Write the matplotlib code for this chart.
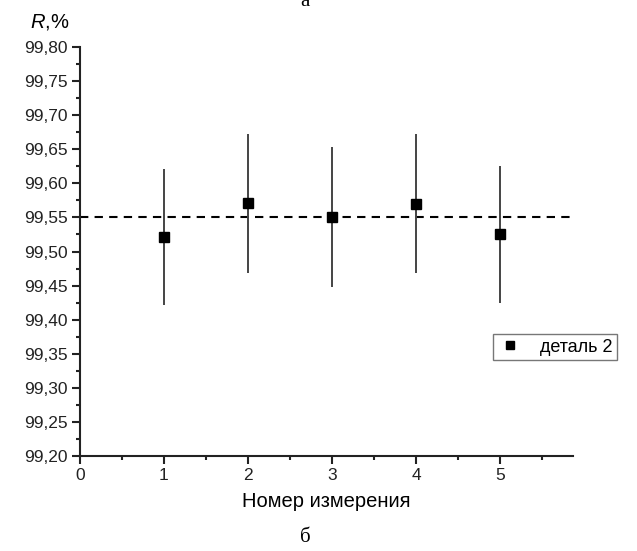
import matplotlib
matplotlib.use("Agg")
import matplotlib.pyplot as plt
from matplotlib.ticker import MultipleLocator, FuncFormatter
from matplotlib.lines import Line2D

x_vals = [1, 2, 3, 4, 5]
r_vals = [99.521, 99.571, 99.551, 99.570, 99.525]
r_err = [0.100, 0.102, 0.103, 0.102, 0.101]
ref_level = 99.55
series_label = "деталь 2"
x_label = "Номер измерения"
y_label_text = "$\\mathit{R}$,%"

plt.rcParams['font.family'] = ['Liberation Sans', 'DejaVu Sans']
plt.rcParams['mathtext.fontset'] = 'custom'
plt.rcParams['mathtext.it'] = 'Liberation Sans:italic'
plt.rcParams['mathtext.rm'] = 'Liberation Sans'

fig = plt.figure(figsize=(6.37, 5.51), dpi=100)
ax = fig.add_axes([80/637, (551-456)/551, (573-80)/637, (456-47)/551])

ax.axhline(ref_level, color='black', lw=1.5, ls=(0, (4, 3)), zorder=1)
ax.errorbar(x_vals, r_vals, yerr=r_err, fmt='s', color='black', ms=7,
            ecolor='#444444', elinewidth=1.4, capsize=0, zorder=3)

ax.set_xlim(0, 5.87)
ax.set_ylim(99.20, 99.80)
ax.xaxis.set_major_locator(MultipleLocator(1))
ax.xaxis.set_minor_locator(MultipleLocator(0.5))
ax.yaxis.set_major_locator(MultipleLocator(0.05))
ax.yaxis.set_minor_locator(MultipleLocator(0.025))
ax.yaxis.set_major_formatter(FuncFormatter(lambda v, p: f"{v:.2f}".replace('.', ',')))
ax.xaxis.set_major_formatter(FuncFormatter(lambda v, p: f"{int(round(v))}"))

for s in ['top', 'right']:
    ax.spines[s].set_visible(False)
for s in ['left', 'bottom']:
    ax.spines[s].set_linewidth(1.5)
    ax.spines[s].set_color('#222222')
ax.tick_params(which='major', direction='out', length=6, width=1.5, labelsize=12.5,
               colors='#222222', pad=3)
ax.tick_params(which='minor', direction='out', length=3, width=1.5, colors='#222222')

ax.set_xlabel(x_label, fontsize=14.5, labelpad=6)
fig.text(50/637, 1 - 22/551, y_label_text, fontsize=14.5, ha='center', va='center')

handle = Line2D([], [], marker='s', color='black', ls='none', ms=6)
leg = ax.legend([handle], [series_label], loc='center', bbox_to_anchor=(555/637, 1 - 347/551),
                bbox_transform=fig.transFigure,
                fontsize=13, frameon=True, fancybox=False, edgecolor='#555555',
                handlelength=1.4, handletextpad=1.0, borderpad=0.25, borderaxespad=0)
leg.get_frame().set_linewidth(1.0)

fig.text(305/637, 1 - 537/551, "б", fontsize=15, family=['Liberation Serif'], ha='center', va='center')
fig.text(305/637, 1 - 1/551, "а", fontsize=15, family=['Liberation Serif'], ha='center', va='center')

fig.savefig("out.png", dpi=100)
